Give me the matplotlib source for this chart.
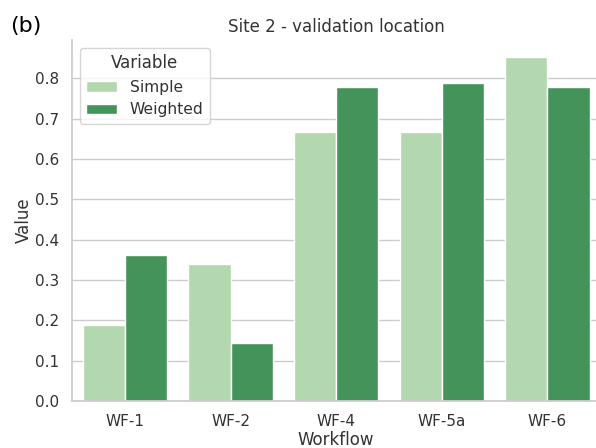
import matplotlib
matplotlib.use("Agg")
import matplotlib.pyplot as plt
import seaborn as sns
import pandas as pd

workflows = ["WF-1", "WF-2", "WF-4", "WF-5a", "WF-6"]
simple = [0.189, 0.340, 0.667, 0.667, 0.853]
weighted = [0.363, 0.143, 0.778, 0.789, 0.778]
variables = ["Simple", "Weighted"]

df = pd.DataFrame({
    "Workflow": workflows * 2,
    "Value": simple + weighted,
    "Variable": [variables[0]] * len(workflows) + [variables[1]] * len(workflows),
})

sns.set_theme(style="whitegrid")
txt = "#333333"
plt.rcParams.update({"text.color": txt, "axes.labelcolor": txt,
                     "xtick.color": txt, "ytick.color": txt})
fig = plt.figure(figsize=(5.96, 4.48), dpi=100)
ax = fig.add_axes([0.121, 0.105, 0.886, 0.806])
sns.barplot(data=df, x="Workflow", y="Value", hue="Variable",
            palette="Greens", ax=ax)
sns.despine(ax=ax)
ax.set_title("Site 2 - validation location", fontsize=12, color=txt)
ax.set_xlabel("Workflow", fontsize=12, labelpad=1)
ax.set_ylabel("Value", fontsize=12, labelpad=1)
ax.tick_params(labelsize=11)
leg = ax.legend(title="Variable", loc="upper left", fontsize=11.2, title_fontsize=12)
fig.text(0.017, 0.965, "(b)", fontsize=16, va="top", ha="left", color="black")
fig.savefig("out.png", dpi=100)
